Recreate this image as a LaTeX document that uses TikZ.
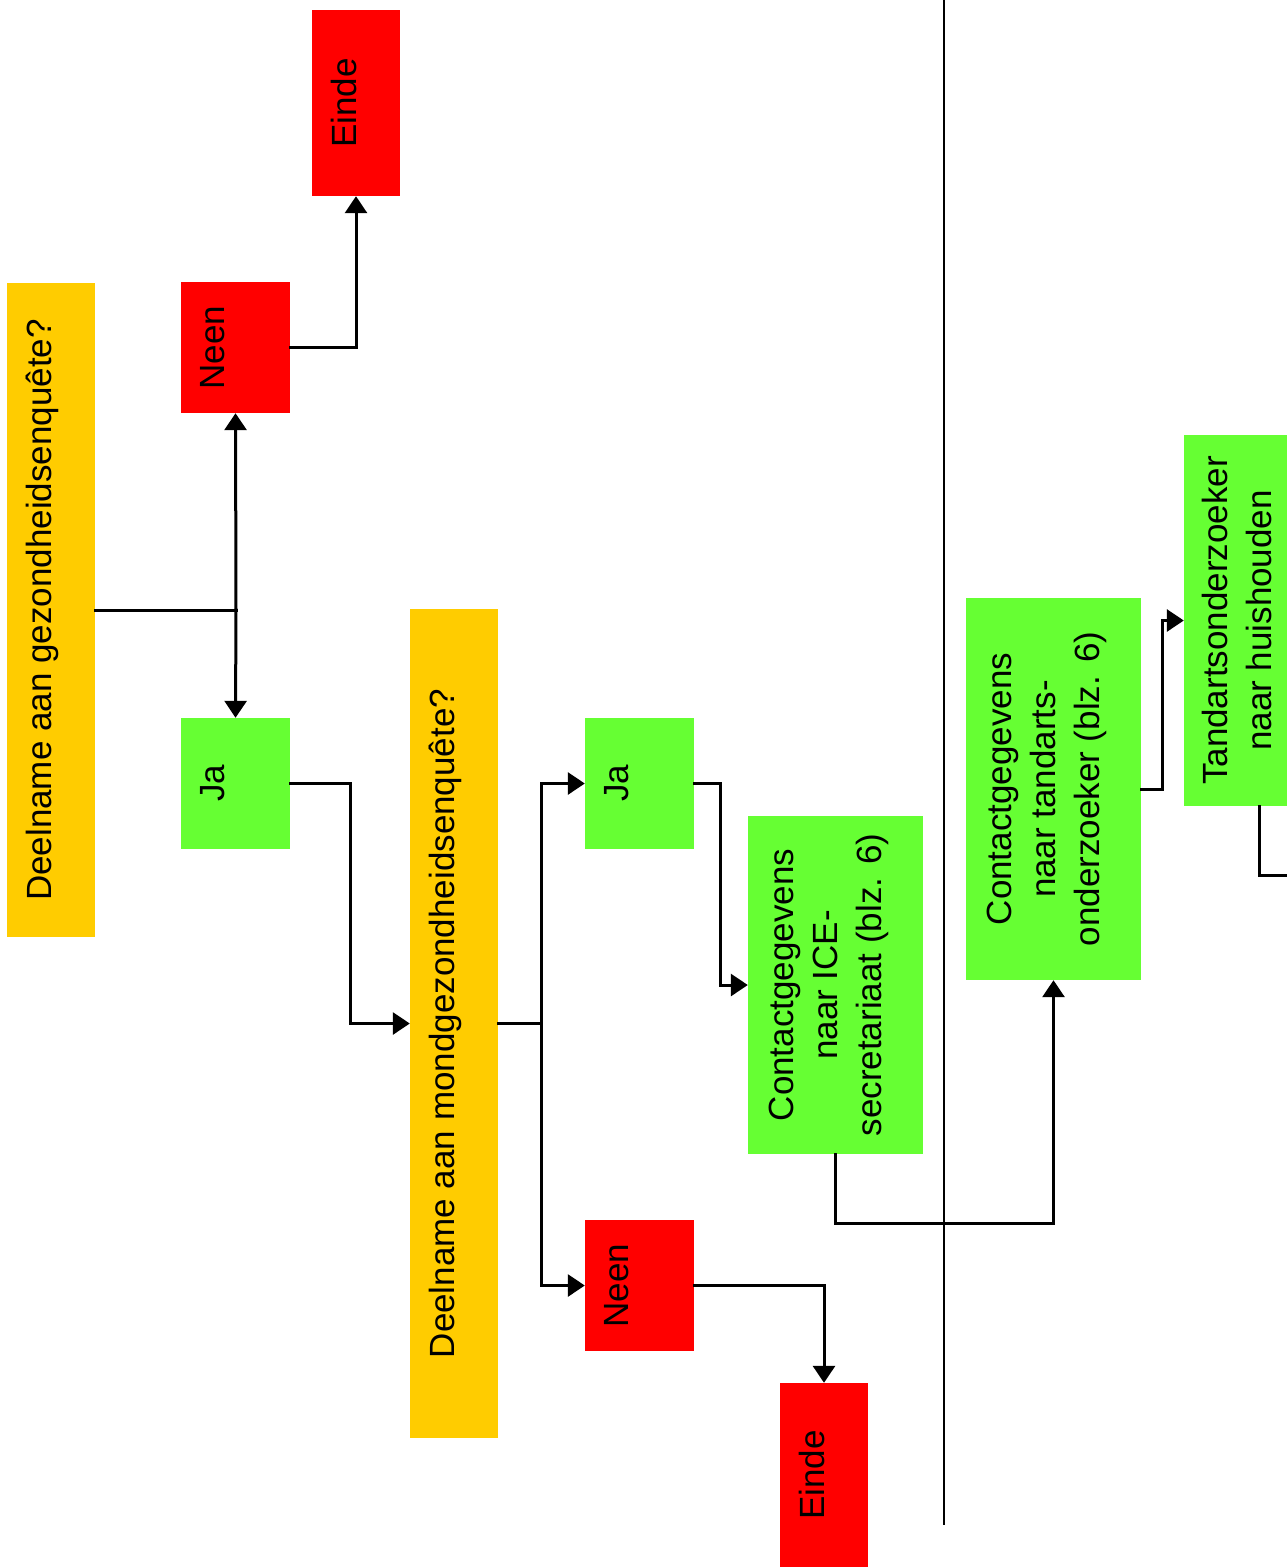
\documentclass[tikz,border=0pt]{standalone}
\usepackage{fontspec}
\setmainfont{Liberation Sans}
\usetikzlibrary{arrows.meta}
\definecolor{qyellow}{HTML}{FFCC00}
\definecolor{qred}{HTML}{FF0000}
\definecolor{qgreen}{HTML}{66FF33}
% multi-line block: baseline at last line, apparent height #1, depth #2
\newcommand\mlblock[3]{\raisebox{0pt}[#1][#2]{\vbox{\baselineskip=44pt\halign{\hfil##\hfil\cr#3}}}}
\begin{document}
\begin{tikzpicture}[x=1pt,y=-1pt,
  box/.style={rotate=90, inner sep=0pt,
    font=\fontsize{35}{44}\selectfont},
  yel/.style={box, fill=qyellow, text height=25pt, text depth=25pt},
  redb/.style={box, fill=qred},
  grn/.style={box, fill=qgreen},
  small/.style={minimum width=131pt, minimum height=109pt, text height=25pt, text depth=48pt},
  conn/.style={line width=3pt, line cap=rect},
  arr/.style={conn, -{Triangle[length=17pt,width=22pt]}}
]
\useasboundingbox (0,0) rectangle (1286,1567);

% divider
\draw[line width=2pt] (944,0) coordinate (d1) -- (944,1525) coordinate (d2);

% boxes
\node[yel, minimum width=654pt, minimum height=88pt] (Y1) at (51,610) {Deelname aan gezondheidsenquête?};
\node[redb, small] (Neen1) at (235.5,347.5) {Neen};
\node[redb, minimum width=186pt, minimum height=88pt, text height=25pt, text depth=25pt] (Einde1) at (356,103) {Einde};
\node[grn, small] (Ja1) at (235.5,783.5) {Ja};
\node[yel, minimum width=829pt, minimum height=88pt] (Y2) at (454,1023.5) {Deelname aan mondgezondheidsenquête?};
\node[grn, small] (Ja2) at (639.5,783.5) {Ja};
\node[redb, small] (Neen2) at (639.5,1285.5) {Neen};
\node[redb, minimum width=184pt, minimum height=88pt, text height=25pt, text depth=25pt] (Einde2) at (824,1475) {Einde};
\node[grn, minimum width=338pt, minimum height=175pt] (ICE) at (835.5,985)
  {\mlblock{130pt}{39pt}{Contactgegevens\cr naar ICE-\cr secretariaat (blz. 6)\cr}};
\node[grn, minimum width=382pt, minimum height=175pt] (Tand) at (1053.5,789)
  {\mlblock{130pt}{39pt}{Contactgegevens\cr naar tandarts-\cr onderzoeker (blz. 6)\cr}};
\node[grn, minimum width=371pt, minimum height=150pt] (TO) at (1259,620.5)
  {\mlblock{60pt}{35pt}{Tandartsonderzoeker\cr naar huishouden\cr}};

% junctions
\coordinate (j1) at (236,610);
\coordinate (j2) at (541,1023.5);
\coordinate (out) at (1290,875);

% connectors
\draw[conn] (Y1.south) -- (j1);
\draw[arr] (j1) -- (Neen1.west);
\draw[arr] (j1) -- (Ja1.east);
\draw[arr] (Neen1.south) -| (Einde1.west);
\draw[arr] (Ja1.south) -- ++(60,0) |- (Y2.north);
\draw[conn] (Y2.south) -- (j2);
\draw[arr] (j2) |- (Ja2.north);
\draw[arr] (j2) |- (Neen2.north);
\draw[arr] (Ja2.south) -- ++(26,0) |- (ICE.north);
\draw[arr] (Neen2.south) -| (Einde2.east);
\draw[arr] (ICE.west) -- ++(0,69) -| (Tand.west);
\draw[arr] (Tand.south) -- ++(21,0) |- (TO.north);
\draw[conn] (TO.west) |- (out);
\end{tikzpicture}
\end{document}
